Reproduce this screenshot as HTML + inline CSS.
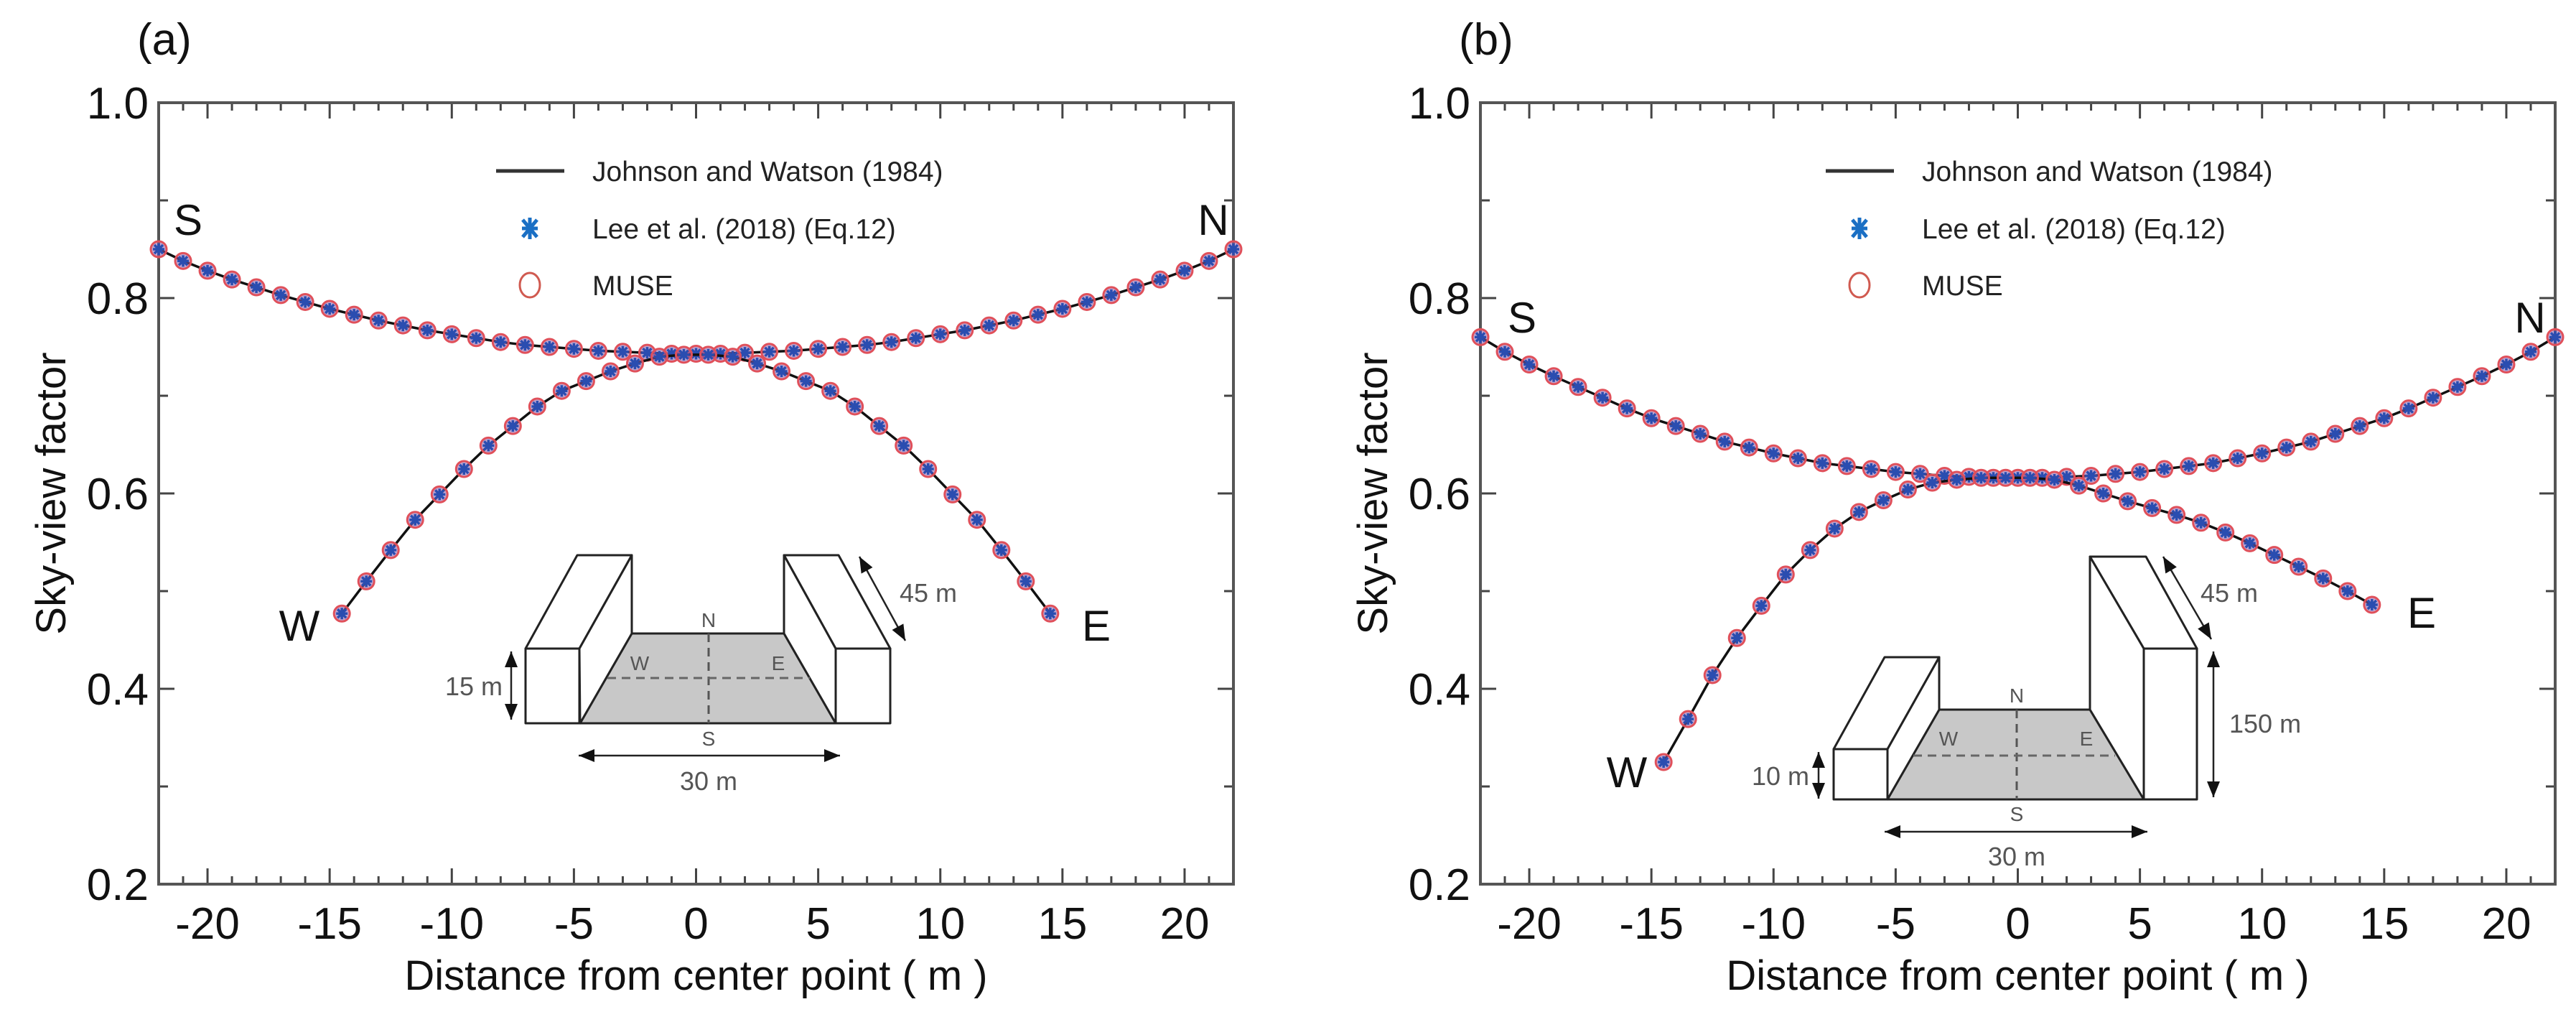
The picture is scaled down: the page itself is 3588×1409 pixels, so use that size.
<!DOCTYPE html>
<html><head><meta charset="utf-8"><style>
html,body{margin:0;padding:0;background:#fff;}
svg{display:block;font-family:"Liberation Sans",sans-serif;}
</style></head><body>
<svg id="fig" width="3588" height="1409" viewBox="0 0 3588 1409" xmlns="http://www.w3.org/2000/svg">
<rect width="3588" height="1409" fill="#fff"/>
<g id="panelA"></g>
<g id="panelB"></g>
</svg>
<script>
// ---- data ----
const snX = [-22,-21,-20,-19,-18,-17,-16,-15,-14,-13,-12,-11,-10,-9,-8,-7,-6,-5,-4,-3,-2,-1,0,1,2,3,4,5,6,7,8,9,10,11,12,13,14,15,16,17,18,19,20,21,22];
const snA = [0.850,0.838,0.828,0.819,0.811,0.803,0.796,0.789,0.783,0.777,0.772,0.767,0.763,0.759,0.755,0.752,0.750,0.748,0.746,0.745,0.744,0.743,0.743,0.743,0.744,0.745,0.746,0.748,0.750,0.752,0.755,0.759,0.763,0.767,0.772,0.777,0.783,0.789,0.796,0.803,0.811,0.819,0.828,0.838,0.850];
const snB = [0.760,0.745,0.732,0.720,0.709,0.698,0.687,0.677,0.669,0.661,0.653,0.647,0.641,0.636,0.631,0.628,0.625,0.622,0.620,0.618,0.617,0.616,0.616,0.616,0.617,0.618,0.620,0.622,0.625,0.628,0.631,0.636,0.641,0.647,0.653,0.661,0.669,0.677,0.687,0.698,0.709,0.720,0.732,0.745,0.760];
const weX = [-14.5,-13.5,-12.5,-11.5,-10.5,-9.5,-8.5,-7.5,-6.5,-5.5,-4.5,-3.5,-2.5,-1.5,-0.5,0.5,1.5,2.5,3.5,4.5,5.5,6.5,7.5,8.5,9.5,10.5,11.5,12.5,13.5,14.5];
const weA = [0.477,0.510,0.542,0.573,0.599,0.625,0.649,0.669,0.689,0.705,0.715,0.725,0.733,0.740,0.742,0.742,0.740,0.733,0.725,0.715,0.705,0.689,0.669,0.649,0.625,0.599,0.573,0.542,0.510,0.477];
const weB = [0.325,0.369,0.414,0.452,0.485,0.517,0.542,0.564,0.581,0.593,0.604,0.611,0.614,0.616,0.616,0.616,0.614,0.608,0.600,0.592,0.585,0.578,0.570,0.560,0.549,0.537,0.525,0.513,0.500,0.486];
const xTicks = [-20,-15,-10,-5,0,5,10,15,20];
const yTicks = [0.2,0.4,0.6,0.8,1.0];
const yTickLabels = ["0.2","0.4","0.6","0.8","1.0"];
const legendLabels = ["Johnson and Watson (1984)","Lee et al. (2018) (Eq.12)","MUSE"];

const NS = "http://www.w3.org/2000/svg";
function mk(parent, tag, attrs, text){
  const e = document.createElementNS(NS, tag);
  for (const k in attrs) e.setAttribute(k, attrs[k]);
  if (text !== undefined) e.textContent = text;
  parent.appendChild(e);
  return e;
}

function drawPanel(g, P){
  const L=P.left, R=P.left+1497, T=143, B=1231;
  const sx = v => L + (v + 22) / 44 * (R - L);
  const sy = v => B - (v - 0.2) / 0.8 * (B - T);
  let t = mk(g,'text',{x:P.left-30,y:76,'font-size':62,fill:'#111'},P.label);
  
  
  const tg = mk(g,'g',{stroke:'#444','stroke-width':3});
  
  
  for (let v=-22; v<=22; v++){
    const len = (v%5===0)?22:11;
    mk(tg,'line',{x1:sx(v),x2:sx(v),y1:B,y2:B-len});
    mk(tg,'line',{x1:sx(v),x2:sx(v),y1:T,y2:T+len});
  }
  for (let k=2; k<=10; k++){
    const v=k/10, len=(k%2===0)?22:13;
    mk(tg,'line',{x1:L,x2:L+len,y1:sy(v),y2:sy(v)});
    mk(tg,'line',{x1:R,x2:R-len,y1:sy(v),y2:sy(v)});
  }
  const fr = mk(g,'rect',{x:L,y:T,width:R-L,height:B-T,fill:'none',stroke:'#555','stroke-width':4});
  
  
  xTicks.forEach(v=>{
    const e = mk(g,'text',{x:sx(v),y:1307,'font-size':62,'text-anchor':'middle',fill:'#111'}, String(v));
    
    
  });
  yTicks.forEach((v,i)=>{
    const e = mk(g,'text',{x:L-14,y:sy(v)+22,'font-size':62,'text-anchor':'end',fill:'#111'}, yTickLabels[i]);
    
    
  });
  let xt = mk(g,'text',{x:(L+R)/2,y:1378,'font-size':58,'text-anchor':'middle',fill:'#111'},'Distance from center point ( m )');
  
  
  const yx = L-130, yy = (T+B)/2;
  let yt = mk(g,'text',{x:yx,y:yy,'font-size':58,'text-anchor':'middle',fill:'#111',transform:`rotate(-90 ${yx} ${yy})`},'Sky-view factor');
  
  

  P.inset(g);

  function series(xs, ys, name){
    const sg = mk(g,'g',{});
    
    
    const d = xs.map((x,i)=>(i?'L':'M')+sx(x).toFixed(1)+' '+sy(ys[i]).toFixed(1)).join(' ');
    const ln = mk(sg,'path',{d:d,fill:'none',stroke:'#111','stroke-width':3.5});
    
    
    xs.forEach((x,i)=>{
      const cx=sx(x), cy=sy(ys[i]);
      const c = mk(sg,'circle',{cx:cx,cy:cy,r:11,fill:'#8a5aa8','fill-opacity':0.55,stroke:'#e0505a','stroke-width':3});
      
      
      const s = mk(sg,'path',{d:`M${cx-8} ${cy}H${cx+8}M${cx} ${cy-8}V${cy+8}M${cx-6} ${cy-6}L${cx+6} ${cy+6}M${cx-6} ${cy+6}L${cx+6} ${cy-6}`,stroke:'#2a4db0','stroke-width':3.5});
      
      
    });
  }
  series(snX, P.sn, 'south-north-series');
  series(weX, P.we, 'west-east-series');

  P.dirs.forEach(d=>{
    const e = mk(g,'text',{x:d[1],y:d[2]+21,'font-size':60,'text-anchor':'middle',fill:'#111'},d[0]);
    
    
  });

  const lg = mk(g,'g',{});
  
  
  const lx = P.legX, rows=[238,318,397];
  const l1 = mk(lg,'line',{x1:lx-47,x2:lx+48,y1:rows[0],y2:rows[0],stroke:'#333','stroke-width':5});
  
  
  const cy=rows[1];
  const st = mk(lg,'path',{d:`M${lx-11} ${cy}H${lx+11}M${lx} ${cy-15}V${cy+15}M${lx-10} ${cy-12}L${lx+10} ${cy+12}M${lx-10} ${cy+12}L${lx+10} ${cy-12}`,stroke:'#1a6fc4','stroke-width':5});
  
  
  const ci = mk(lg,'ellipse',{cx:lx,cy:rows[2],rx:14,ry:17,fill:'none',stroke:'#d05a50','stroke-width':3});
  
  
  legendLabels.forEach((s,i)=>{
    const e = mk(lg,'text',{x:lx+87,y:rows[i]+14,'font-size':39,fill:'#222'},s);
    
    
  });
}

function arrowLine(g,x1,y1,x2,y2){
  const a = Math.atan2(y2-y1,x2-x1), h=22, w=9;
  const ah = (x,y,ang)=>`M${x} ${y}L${x-h*Math.cos(ang)+w*Math.sin(ang)} ${y-h*Math.sin(ang)-w*Math.cos(ang)}L${x-h*Math.cos(ang)-w*Math.sin(ang)} ${y-h*Math.sin(ang)+w*Math.cos(ang)}Z`;
  const grp = mk(g,'g',{});
  
  
  mk(grp,'line',{x1:x1,y1:y1,x2:x2,y2:y2,stroke:'#222','stroke-width':2.5});
  mk(grp,'path',{d:ah(x2,y2,a)+ah(x1,y1,a+Math.PI),fill:'#111'});
}
function insetText(g,x,y,s,size,anchor){
  const e = mk(g,'text',{x:x,y:y+size*0.36,'font-size':size,'text-anchor':anchor||'middle',fill:'#555'},s);
  
  
}
function insetA(g){
  const ig = mk(g,'g',{fill:'#fff',stroke:'#222','stroke-width':3,'stroke-linejoin':'round'});
  
  
  mk(ig,'polygon',{points:'808,1007 880,882 1092,882 1164,1007',fill:'#c8c8c8'});
  mk(ig,'polygon',{points:'732,903 804,773 880,773 807,903'});
  mk(ig,'polygon',{points:'807,903 880,773 880,882 808,1007'});
  mk(ig,'rect',{x:732,y:903,width:75,height:104});
  mk(ig,'polygon',{points:'1092,773 1168,773 1240,903 1164,903'});
  mk(ig,'polygon',{points:'1092,773 1164,903 1164,1007 1092,882'});
  mk(ig,'rect',{x:1164,y:903,width:76,height:104});
  mk(ig,'line',{x1:732,y1:1007,x2:1240,y2:1007});
  mk(ig,'line',{x1:987,y1:882,x2:987,y2:1007,stroke:'#555','stroke-dasharray':'12 8'});
  mk(ig,'line',{x1:846,y1:944,x2:1128,y2:944,stroke:'#666','stroke-dasharray':'12 8'});
  insetText(g,987,863,'N',28); insetText(g,987,1028,'S',28);
  insetText(g,891,923,'W',28); insetText(g,1084,923,'E',28);
  arrowLine(g,806,1052,1170,1052); insetText(g,987,1087,'30 m',36);
  arrowLine(g,1197,775,1261,892); insetText(g,1253,825,'45 m',36,'start');
  arrowLine(g,712,907,712,1002); insetText(g,700,955,'15 m',36,'end');
}
function insetB(g){
  const ig = mk(g,'g',{fill:'#fff',stroke:'#222','stroke-width':3,'stroke-linejoin':'round'});
  
  
  mk(ig,'polygon',{points:'2629,1113 2701,988 2911,988 2986,1113',fill:'#c8c8c8'});
  mk(ig,'polygon',{points:'2554,1043 2625,915 2701,915 2629,1043'});
  mk(ig,'polygon',{points:'2629,1043 2701,915 2701,988 2629,1113'});
  mk(ig,'rect',{x:2554,y:1043,width:75,height:70});
  mk(ig,'polygon',{points:'2911,775 2989,775 3060,903 2986,903'});
  mk(ig,'polygon',{points:'2911,775 2986,903 2986,1113 2911,988'});
  mk(ig,'rect',{x:2986,y:903,width:74,height:210});
  mk(ig,'line',{x1:2554,y1:1113,x2:3060,y2:1113});
  mk(ig,'line',{x1:2809,y1:988,x2:2809,y2:1113,stroke:'#555','stroke-dasharray':'12 8'});
  mk(ig,'line',{x1:2665,y1:1052,x2:2946,y2:1052,stroke:'#666','stroke-dasharray':'12 8'});
  insetText(g,2809,968,'N',28); insetText(g,2809,1133,'S',28);
  insetText(g,2714,1028,'W',28); insetText(g,2906,1028,'E',28);
  arrowLine(g,2625,1158,2991,1158); insetText(g,2809,1192,'30 m',36);
  arrowLine(g,3013,775,3080,890); insetText(g,3065,825,'45 m',36,'start');
  arrowLine(g,3083,907,3083,1110); insetText(g,3105,1007,'150 m',36,'start');
  arrowLine(g,2533,1047,2533,1112); insetText(g,2520,1080,'10 m',36,'end');
}

drawPanel(document.getElementById('panelA'), {left:221,label:'(a)',sn:snA,we:weA,inset:insetA,legX:738,
  dirs:[['S',262,306],['N',1690,306],['W',417,871],['E',1527,871]]});
drawPanel(document.getElementById('panelB'), {left:2062,label:'(b)',sn:snB,we:weB,inset:insetB,legX:2590,
  dirs:[['S',2120,442],['N',3524,442],['W',2266,1075],['E',3373,853]]});
</script>
</body></html>
